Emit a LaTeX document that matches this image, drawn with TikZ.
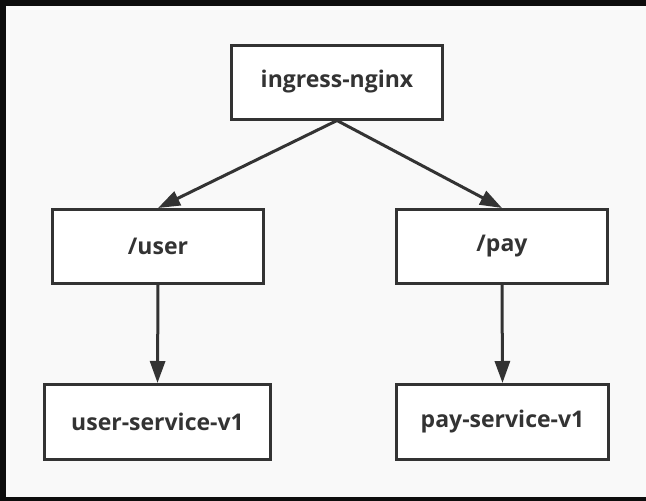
\documentclass[tikz,border=0pt]{standalone}
\usepackage{fontspec}
\setmainfont{Open Sans}
\usepackage{tikz}
\usetikzlibrary{arrows.meta}
\definecolor{linegray}{HTML}{333333}
\definecolor{paper}{HTML}{F9F9F9}
\tikzset{>={Triangle[length=22pt,width=15pt]}}
\tikzset{
    routebox/.style={draw=linegray, line width=3pt, fill=white, text=linegray,
        font=\bfseries\fontsize{23}{27}\selectfont, minimum height=74pt},
    routeline/.style={->, draw=linegray, fill=linegray, line width=3pt}
}

\begin{document}
\begin{tikzpicture}[x=1pt, y=-1pt]
                \fill[paper] (0,0) rectangle (646,501);
                \fill[black!95] (0,0) rectangle (646,6);
                \fill[black!95] (0,0) rectangle (6,501);
                \fill[black!95] (0,497) rectangle (646,501);
                \useasboundingbox (0,0) rectangle (646,501);

                \node[routebox, minimum width=211pt] (ingress) at (337, 82) {ingress-nginx};

                \node[routebox, minimum width=211pt] (user) at (158, 246.5) {/user};
                \node[routebox, minimum width=211pt] (pay) at (502, 246.5) {/pay};

                \node[routebox, minimum width=226pt, minimum height=75pt] (usersvc) at (157.5, 422) {user-service-v1};
                \node[routebox, minimum width=212pt, minimum height=75pt] (paysvc) at (502.5, 422) {pay-service-v1};

                \draw[routeline] (ingress.south) -- (user.north);
                \draw[routeline] (ingress.south) -- (pay.north);
                \draw[routeline] (user.south) -- (usersvc.north);
                \draw[routeline] (pay.south) -- (paysvc.north);

            \end{tikzpicture}
\end{document}
